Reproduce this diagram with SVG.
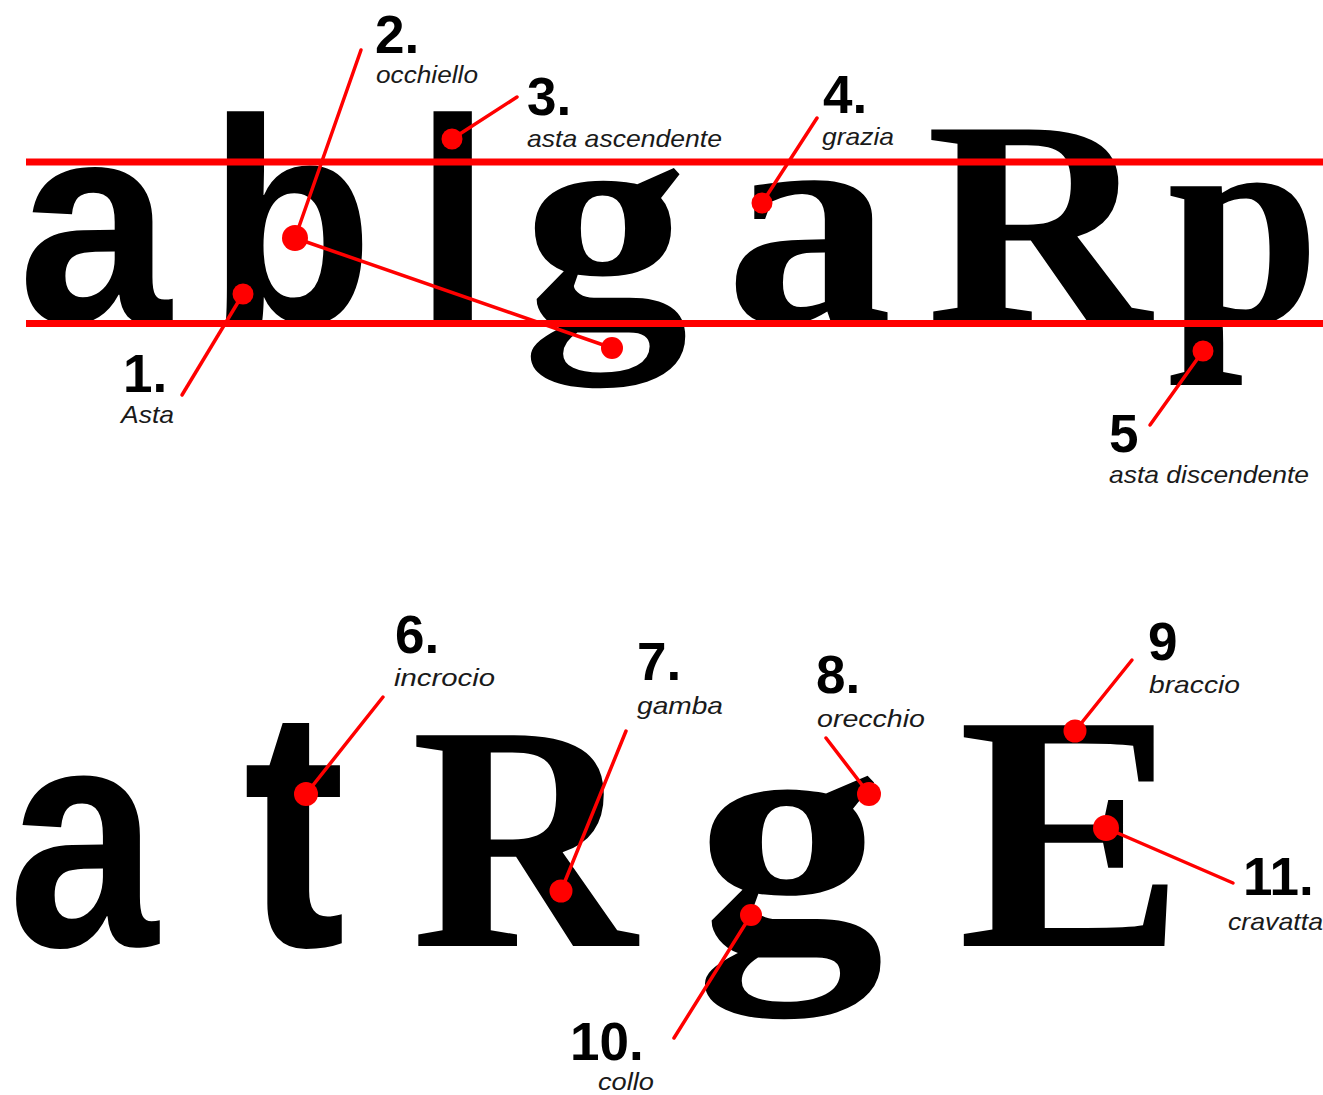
<svg xmlns="http://www.w3.org/2000/svg" width="1323" height="1095" viewBox="0 0 1323 1095">
<style>
.sans{font-family:"Liberation Sans",Arial,sans-serif;font-weight:bold;fill:#000}
.serif{font-family:"Liberation Serif","Times New Roman",serif;font-weight:bold;fill:#000}
.num{font-family:"Liberation Sans",Arial,sans-serif;font-weight:bold;font-size:53px;fill:#000}
.lbl{font-family:"Liberation Sans",Arial,sans-serif;font-style:italic;font-size:24px;fill:#1a1a1a}
.guide{stroke:#ff0000;stroke-width:7}
.conn line{stroke:#ff0000;stroke-width:3.5;stroke-linecap:round}
.dot{fill:#ff0000}
</style>
<rect width="1323" height="1095" fill="#fff"/>

<g id="letters-top">
<text class="sans" font-size="288" transform="translate(18,322) scale(0.955,1)">a</text>
<text class="sans" font-size="291" transform="translate(208,322) scale(0.93,1)">b</text>
<text class="sans" font-size="291" transform="translate(414,322) scale(0.96,1)">l</text>
<text class="serif" font-size="300" transform="translate(522,322) scale(1.11,1)">g</text>
<text class="serif" font-size="302" transform="translate(725,322) scale(1.11,1)">a</text>
<text class="serif" font-size="294" transform="translate(926,322) scale(1.06,1)">R</text>
<text class="serif" font-size="296" transform="translate(1167,322) scale(0.93,1)">p</text>
</g>

<g id="guides">
<line class="guide" x1="26" y1="162" x2="1323" y2="162"/>
<line class="guide" x1="26" y1="323.5" x2="1323" y2="323.5"/>
</g>

<g id="letters-bottom">
<text class="sans" font-size="317" transform="translate(8.2,946) scale(0.85,1)">a</text>
<text class="sans" font-size="342" transform="translate(243,946) scale(0.9,1)">t</text>
<text class="serif" font-size="322" transform="translate(411,946) scale(0.97,1)">R</text>
<text class="serif" font-size="332" transform="translate(695,946) scale(1.14,1)">g</text>
<text class="serif" font-size="337" transform="translate(958,946) scale(1.01,1)">E</text>
</g>

<g id="connectors" class="conn">
<line x1="243" y1="294" x2="182" y2="395"/>
<line x1="361" y1="50" x2="295" y2="238"/>
<line x1="295" y1="238" x2="612" y2="348"/>
<line x1="517" y1="97" x2="452" y2="139"/>
<line x1="817" y1="118" x2="762" y2="203"/>
<line x1="1203" y1="351" x2="1150" y2="425"/>
<line x1="383" y1="697" x2="306" y2="794"/>
<line x1="626" y1="731" x2="561" y2="891"/>
<line x1="826" y1="738" x2="869" y2="794"/>
<line x1="1132" y1="660" x2="1075" y2="731"/>
<line x1="751" y1="915" x2="674" y2="1038"/>
<line x1="1106" y1="828" x2="1233" y2="883"/>
</g>

<g id="dots">
<circle class="dot" cx="243" cy="294" r="10.5"/>
<circle class="dot" cx="295" cy="238" r="13"/>
<circle class="dot" cx="612" cy="348" r="11"/>
<circle class="dot" cx="452" cy="139" r="10.5"/>
<circle class="dot" cx="762" cy="203" r="10.5"/>
<circle class="dot" cx="1203" cy="351" r="10.5"/>
<circle class="dot" cx="306" cy="794" r="12"/>
<circle class="dot" cx="561" cy="891" r="11.5"/>
<circle class="dot" cx="869" cy="794" r="12"/>
<circle class="dot" cx="1075" cy="731" r="11.5"/>
<circle class="dot" cx="751" cy="915" r="11"/>
<circle class="dot" cx="1106" cy="828" r="13"/>
</g>

<g id="label-1"><text class="num" x="123" y="392">1.</text><text class="lbl" x="121" y="423" textLength="53" lengthAdjust="spacingAndGlyphs">Asta</text></g>
<g id="label-2"><text class="num" x="375" y="53">2.</text><text class="lbl" x="376" y="83" textLength="102" lengthAdjust="spacingAndGlyphs">occhiello</text></g>
<g id="label-3"><text class="num" x="527" y="115">3.</text><text class="lbl" x="527" y="147" textLength="195" lengthAdjust="spacingAndGlyphs">asta ascendente</text></g>
<g id="label-4"><text class="num" x="823" y="113">4.</text><text class="lbl" x="822" y="145" textLength="72" lengthAdjust="spacingAndGlyphs">grazia</text></g>
<g id="label-5"><text class="num" x="1109" y="452">5</text><text class="lbl" x="1109" y="483" textLength="200" lengthAdjust="spacingAndGlyphs">asta discendente</text></g>
<g id="label-6"><text class="num" x="395" y="653">6.</text><text class="lbl" x="394" y="686" textLength="101" lengthAdjust="spacingAndGlyphs">incrocio</text></g>
<g id="label-7"><text class="num" x="637" y="680">7.</text><text class="lbl" x="637" y="714" textLength="86" lengthAdjust="spacingAndGlyphs">gamba</text></g>
<g id="label-8"><text class="num" x="816" y="693">8.</text><text class="lbl" x="817" y="727" textLength="108" lengthAdjust="spacingAndGlyphs">orecchio</text></g>
<g id="label-9"><text class="num" x="1148" y="660">9</text><text class="lbl" x="1149" y="693" textLength="91" lengthAdjust="spacingAndGlyphs">braccio</text></g>
<g id="label-10"><text class="num" x="570" y="1060">10.</text><text class="lbl" x="598" y="1090" textLength="56" lengthAdjust="spacingAndGlyphs">collo</text></g>
<g id="label-11"><text class="num" x="1243" y="895">11.</text><text class="lbl" x="1228" y="930" textLength="95" lengthAdjust="spacingAndGlyphs">cravatta</text></g>
</svg>
